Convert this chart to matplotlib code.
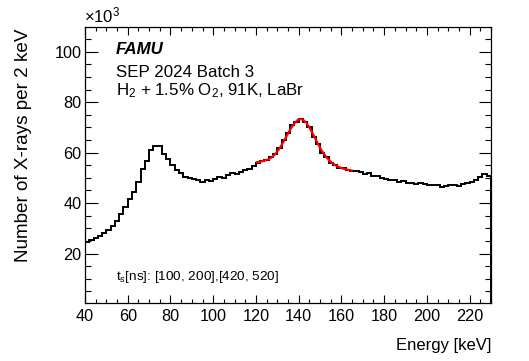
import numpy as np
import matplotlib
matplotlib.use("Agg")
import matplotlib.pyplot as plt
from matplotlib.ticker import MultipleLocator

# Histogram: 2 keV bins from 40 to 230 keV, counts in units of 10^3
bin_edges = np.arange(40, 232, 2)
counts = [
    24.4, 25.2, 26.0, 27.0, 28.2, 29.5, 31.0, 33.0, 35.5, 38.5,   # 40-58
    41.5, 44.5, 48.5, 53.5, 56.7, 61.2, 62.5, 62.6, 59.5, 57.3,   # 60-78
    55.0, 53.0, 52.0, 50.5, 50.0, 49.5, 49.0, 48.4, 49.3, 48.6,   # 80-98
    49.5, 50.3, 50.0, 51.3, 51.8, 51.6, 52.5, 53.0, 53.4, 54.6,   # 100-118
    55.8, 56.6, 57.0, 58.2, 59.6, 62.0, 64.9, 67.8, 70.8, 72.3,   # 120-138
    73.5, 72.0, 70.2, 66.3, 63.5, 60.0, 58.1, 56.0, 55.2, 54.0,   # 140-158
    53.8, 53.0, 52.9, 52.7, 52.5, 51.7, 52.0, 50.6, 50.8, 49.8,   # 160-178
    49.7, 49.0, 49.0, 48.3, 48.6, 48.0, 47.8, 47.6, 47.9, 47.4,   # 180-198
    47.3, 47.0, 47.0, 46.2, 46.8, 47.0, 47.3, 46.8, 47.4, 47.9,   # 200-218
    48.5, 49.2, 50.2, 51.4, 50.8,                                 # 220-228
]

# Fit curve (red)
fit_energy = [120.5, 122, 124, 126, 127.5, 129, 130.5, 132, 133.5, 135,
              136.5, 138, 139.5, 140.8, 142, 143.5, 145, 146.5, 148, 149.5,
              151, 152.5, 154, 155.5, 157, 158.5, 160, 161.5, 163, 164.8]
fit_counts = [56.2, 56.4, 56.8, 57.4, 58.2, 59.4, 61.0, 63.0, 65.2, 67.6,
              69.8, 71.6, 72.9, 73.3, 73.0, 71.9, 70.0, 67.7, 65.2, 62.7,
              60.5, 58.7, 57.2, 56.0, 55.1, 54.4, 53.9, 53.5, 53.2, 52.9]

plt.rcParams['font.family'] = ['Liberation Sans', 'DejaVu Sans']
plt.rcParams['mathtext.fontset'] = 'custom'
plt.rcParams['mathtext.rm'] = 'Liberation Sans'
plt.rcParams['mathtext.it'] = 'Liberation Sans:italic'

W, H = 529, 361
fig = plt.figure(figsize=(W / 100, H / 100), dpi=100)
ax = fig.add_axes([85 / W, 1 - 303 / H, (491 - 85) / W, (303 - 27) / H])

ax.stairs(counts, bin_edges, color='black', lw=1.4)
ax.plot(fit_energy, fit_counts, color='#ff0000', lw=1.6)

ax.set_xlim(40, 230)
ax.set_ylim(0.4, 109.8)
ax.xaxis.set_major_locator(MultipleLocator(20))
ax.xaxis.set_minor_locator(MultipleLocator(5))
ax.set_yticks([20, 40, 60, 80, 100])
ax.yaxis.set_minor_locator(MultipleLocator(5))

for s in ax.spines.values():
    s.set_linewidth(0.9)
ax.tick_params(which='both', direction='in', top=True, right=True, width=0.8,
               labelsize=11.7)
ax.tick_params(axis='x', which='major', length=6, pad=4)
ax.tick_params(axis='x', which='minor', length=3)
ax.tick_params(axis='y', which='major', length=9, pad=2.5)
ax.tick_params(axis='y', which='minor', length=4.5)

def fx(px):
    return px / W

def fy(py):
    return 1 - py / H

fig.text(fx(84), fy(22.5), r'$\times$10$^{3}$', fontsize=12, va='baseline', ha='left')
fig.text(fx(491), fy(350), 'Energy [keV]', fontsize=12, ha='right', va='baseline')
fig.text(fx(24), fy(28), 'Number of X-rays per 2 keV', fontsize=13.6,
         rotation=90, ha='center', va='top')

fig.text(fx(116), fy(54.3), 'FAMU', fontsize=12.2, fontweight='bold',
         style='italic', va='baseline')
fig.text(fx(116), fy(77.3), 'SEP 2024 Batch 3', fontsize=12.2, va='baseline')
fig.text(fx(116), fy(95), r'H$_2$ + 1.5% O$_2$, 91K, LaBr', fontsize=12.2, va='baseline')
fig.text(fx(116), fy(280), r't$_s$[ns]: [100, 200],[420, 520]', fontsize=9.7,
         va='baseline')

fig.savefig('out.png', dpi=100)
